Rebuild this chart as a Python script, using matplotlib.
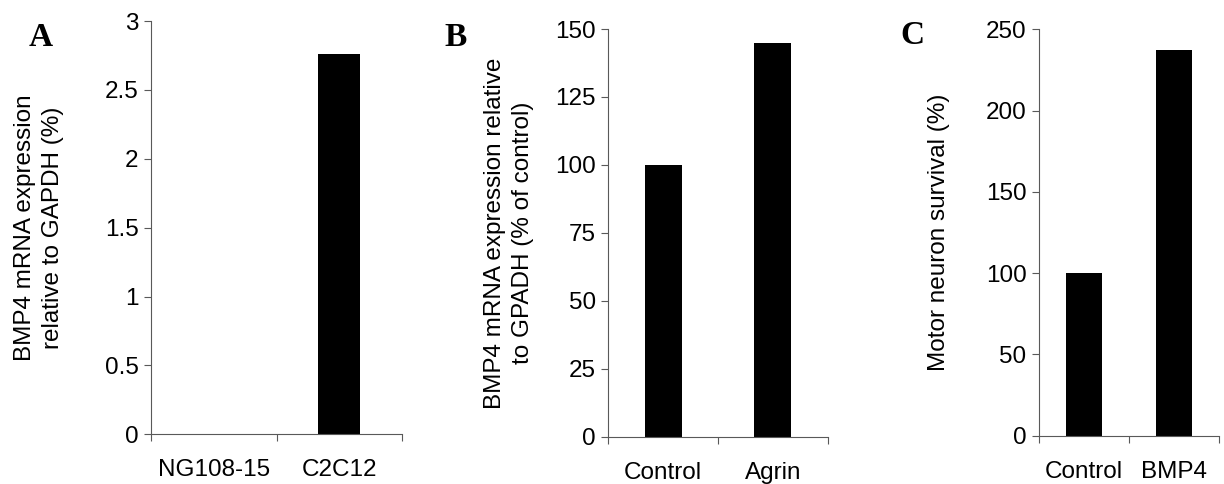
import matplotlib.pyplot as plt
from matplotlib.ticker import FixedLocator

plt.rcParams['font.family'] = ['Liberation Sans', 'DejaVu Sans']

# panel A
a_labels = ['NG108-15', 'C2C12']
a_values = [0, 2.76]
a_ticks = [0, 0.5, 1, 1.5, 2, 2.5, 3]
a_ticklabels = ['0', '0.5', '1', '1.5', '2', '2.5', '3']

# panel B
b_labels = ['Control', 'Agrin']
b_values = [100, 145]
b_ticks = [0, 25, 50, 75, 100, 125, 150]

# panel C
c_labels = ['Control', 'BMP4']
c_values = [100, 237]
c_ticks = [0, 50, 100, 150, 200, 250]

W, H = 1224, 484
fig = plt.figure(figsize=(W / 100, H / 100), dpi=100)
spine_col = '#595959'
fs = 17.5


def px_axes(left, top, right, bottom):
    return fig.add_axes([left / W, 1 - bottom / H, (right - left) / W, (bottom - top) / H])


def panel(ax, labels, values, ticks, ticklabels, width, ylabel, label_x, letter, letter_xy):
    ax.bar(range(len(values)), values, width=width, color='black')
    ax.set_xlim(-0.5, len(values) - 0.5)
    ax.set_ylim(ticks[0], ticks[-1])
    ax.set_yticks(ticks)
    ax.set_yticklabels(ticklabels, fontsize=fs)
    ax.set_xticks(range(len(labels)))
    ax.set_xticklabels(labels, fontsize=fs)
    ax.xaxis.set_minor_locator(FixedLocator([i - 0.5 for i in range(len(values) + 1)]))
    ax.tick_params(axis='x', which='major', length=0, pad=18)
    ax.tick_params(axis='x', which='minor', length=5, width=0.8, color=spine_col, direction='out')
    ax.tick_params(axis='y', length=5, width=0.8, color=spine_col, direction='out', pad=4)
    for s in ['top', 'right']:
        ax.spines[s].set_visible(False)
    for s in ['left', 'bottom']:
        ax.spines[s].set_color(spine_col)
        ax.spines[s].set_linewidth(0.8)
    ax.set_ylabel(ylabel, fontsize=fs, va='center', ha='center', multialignment='center',
                  linespacing=1.3)
    ax.yaxis.set_label_coords(label_x / W, 0.5 * (ax.get_position().y0 + ax.get_position().y1),
                              transform=fig.transFigure)
    fig.text(letter_xy[0] / W, 1 - letter_xy[1] / H, letter, fontsize=24, fontweight='bold',
             family='Liberation Serif', ha='center', va='center')


ax_a = px_axes(151, 21, 402, 434.3)
panel(ax_a, a_labels, a_values, a_ticks, a_ticklabels, 0.335,
      'BMP4 mRNA expression\nrelative to GAPDH (%)', 39, 'A', (41, 38))

ax_b = px_axes(608.3, 29, 827.7, 436.7)
panel(ax_b, b_labels, b_values, b_ticks, [str(t) for t in b_ticks], 0.34,
      'BMP4 mRNA expression relative\nto GPADH (% of control)', 509, 'B', (456, 38))

ax_c = px_axes(1039, 29.3, 1219, 435.7)
panel(ax_c, c_labels, c_values, c_ticks, [str(t) for t in c_ticks], 0.40,
      'Motor neuron survival (%)', 939, 'C', (912, 36))

fig.savefig('out.png', dpi=100)
